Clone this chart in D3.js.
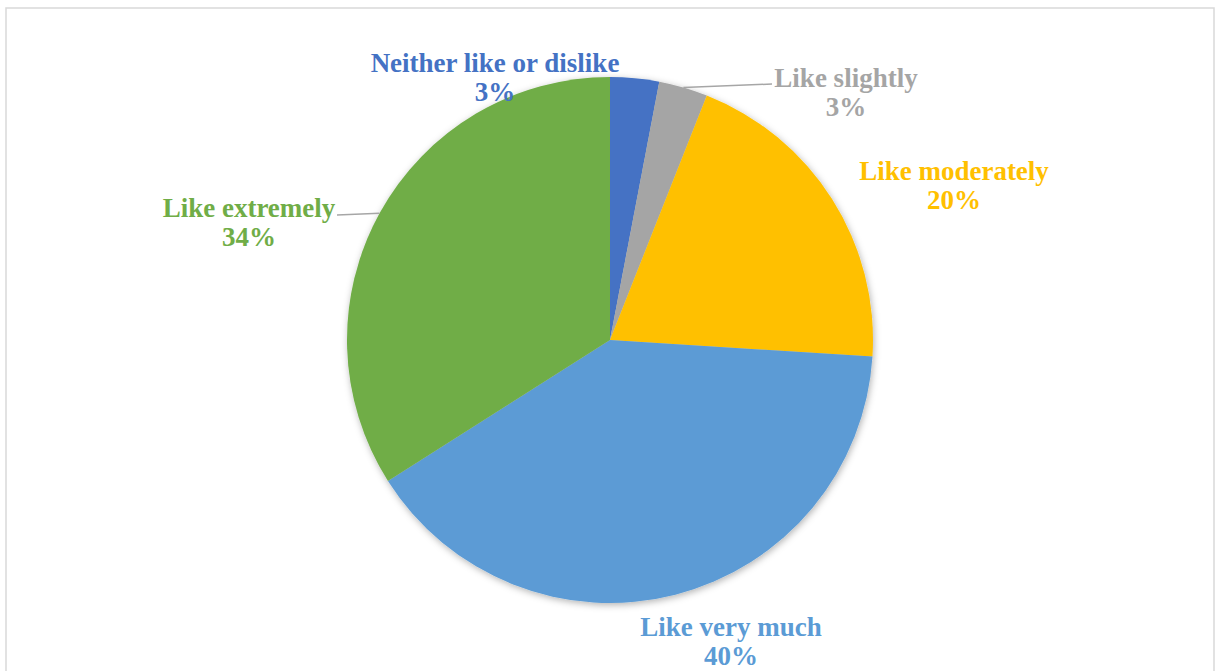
<!DOCTYPE html>
<html>
<head>
<meta charset="utf-8">
<script src="https://cdn.jsdelivr.net/npm/d3@7"></script>
<style>
  html, body { margin: 0; padding: 0; background: #ffffff; }
  svg { display: block; }
</style>
</head>
<body>
<svg id="chart" width="1221" height="671"></svg>
<script>
// Survey responses (percent of respondents)
const categories = ["Neither like or dislike", "Like slightly", "Like moderately", "Like very much", "Like extremely"];
const values = [3, 3, 20, 40, 34];
const colors = ["#4472C4", "#A5A5A5", "#FFC000", "#5B9BD5", "#70AD47"];

const W = 1221, H = 671;
const cx = 610, cy = 340, R = 263;

const svg = d3.select("#chart");

// chart area frame
svg.append("rect")
  .attr("x", 6).attr("y", 8)
  .attr("width", 1208).attr("height", 700)
  .attr("fill", "#ffffff")
  .attr("stroke", "#d9d9d9")
  .attr("stroke-width", 1.5);

// soft shadow under the pie
const defs = svg.append("defs");
const f = defs.append("filter").attr("id", "shadow")
  .attr("x", "-10%").attr("y", "-10%").attr("width", "120%").attr("height", "120%");
f.append("feDropShadow")
  .attr("dx", 1).attr("dy", 2)
  .attr("stdDeviation", 3.5)
  .attr("flood-color", "#000")
  .attr("flood-opacity", 0.3);

const pie = d3.pie().sort(null).value(d => d)(values);
const arc = d3.arc().innerRadius(0).outerRadius(R);

const g = svg.append("g").attr("transform", `translate(${cx},${cy})`);
g.append("g").attr("filter", "url(#shadow)")
  .selectAll("path")
  .data(pie)
  .join("path")
  .attr("d", arc)
  .attr("fill", (d, i) => colors[i]);

// label anchors (centre x, first baseline y) and leader-line ends
const labelLayout = [
  { x: 495, y: 72, leader: null },
  { x: 846, y: 87, leader: [772, 84] },
  { x: 954, y: 180, leader: null },
  { x: 731, y: 636, leader: null },
  { x: 249, y: 217, leader: [337, 215] }
];

// leader lines from the slice edge to the label
pie.forEach((d, i) => {
  const L = labelLayout[i];
  if (!L.leader) return;
  const a = (d.startAngle + d.endAngle) / 2;
  const px = cx + R * Math.sin(a), py = cy - R * Math.cos(a);
  svg.append("line")
    .attr("x1", px).attr("y1", py)
    .attr("x2", L.leader[0]).attr("y2", L.leader[1])
    .attr("stroke", "#a6a6a6").attr("stroke-width", 1.5);
});

const fmt = d3.format(".0%");
const labels = svg.append("g")
  .attr("font-family", "'Liberation Serif', 'Times New Roman', serif")
  .attr("font-weight", "bold")
  .attr("font-size", 27)
  .attr("text-anchor", "middle");

pie.forEach((d, i) => {
  const L = labelLayout[i];
  const t = labels.append("text").attr("fill", colors[i]);
  t.append("tspan").attr("x", L.x).attr("y", L.y).text(categories[i]);
  t.append("tspan").attr("x", L.x).attr("y", L.y + 29).text(fmt(values[i] / 100));
});
</script>
</body>
</html>
